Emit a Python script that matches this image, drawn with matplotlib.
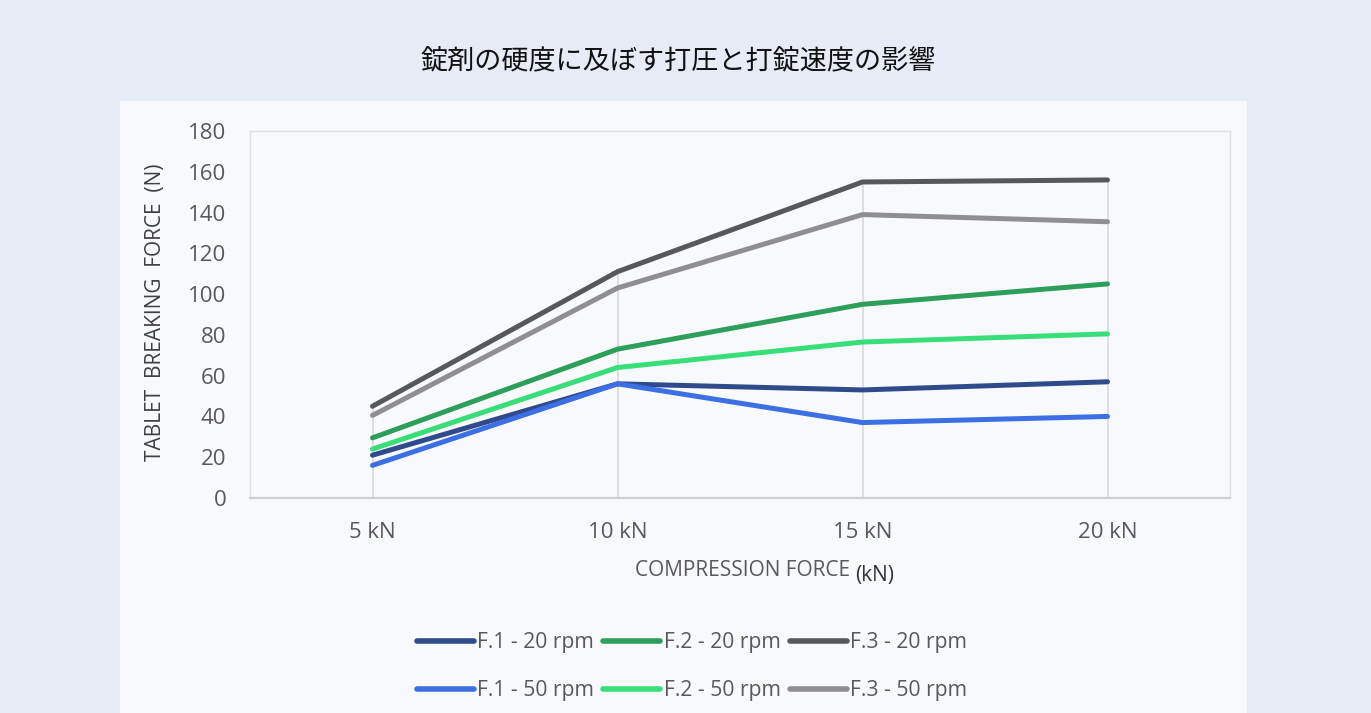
import matplotlib
matplotlib.use("Agg")
import matplotlib.pyplot as plt
from matplotlib.patches import Rectangle

# data
categories = ["5 kN", "10 kN", "15 kN", "20 kN"]
f1_20 = [21, 56, 53, 57]
f1_50 = [16, 56, 37, 40]
f2_20 = [29.5, 73, 95, 105]
f2_50 = [24, 64, 76.5, 80.5]
f3_20 = [45, 111, 155, 156]
f3_50 = [40.5, 103, 139, 135.5]
series_labels = ["F.1 - 20 rpm", "F.1 - 50 rpm", "F.2 - 20 rpm",
                 "F.2 - 50 rpm", "F.3 - 20 rpm", "F.3 - 50 rpm"]
yticks = [0, 20, 40, 60, 80, 100, 120, 140, 160, 180]

title = "錠剤の硬度に及ぼす打圧と打錠速度の影響"

COLORS = ["#2f4b8c", "#3b6fe3", "#2e9e5b", "#38df78", "#56585b", "#8f8f92"]
W, H = 1371, 713

plt.rcParams["font.family"] = ["Open Sans", "DejaVu Sans"]

fig = plt.figure(figsize=(W / 100, H / 100), dpi=100)
fig.patch.set_facecolor("#e6ebf6")

# inner light panel, kept behind the axes
fig.patches.append(Rectangle((120 / W, 0), (1247 - 120) / W, (713 - 101) / H,
                             transform=fig.transFigure, facecolor="#f7f9fd",
                             edgecolor="none", zorder=-5))

fig.text(678 / W, 1 - 62 / H, title, ha="center", va="center", fontsize=19.5,
         family=["Noto Sans CJK JP", "DejaVu Sans"], color="#111111")

ax = fig.add_axes([250 / W, 1 - 498 / H, (1230 - 250) / W, (498 - 131) / H])
ax.set_zorder(2)
ax.set_facecolor("#f7f9fd")

x = list(range(len(categories)))
all_series = [f1_20, f1_50, f2_20, f2_50, f3_20, f3_50]

# drop lines from the highest value down to zero
tops = [max(vals) for vals in zip(*all_series)]
ax.vlines(x, 0, tops, colors="#d9d9d9", linewidth=1.2, zorder=1)

for vals, lab, col in zip(all_series, series_labels, COLORS):
    ax.plot(x, vals, color=col, linewidth=3.6, label=lab,
            solid_capstyle="round", solid_joinstyle="round", zorder=3)

ax.set_xlim(-0.5, len(categories) - 0.5)
ax.set_ylim(0, 180)
ax.set_yticks(yticks)
ax.set_xticks(x)
ax.set_xticklabels(categories)
ax.tick_params(axis="both", length=0, labelsize=16, labelcolor="#595959")
ax.tick_params(axis="y", pad=17)
ax.tick_params(axis="x", pad=17)

for side in ["left", "top", "right"]:
    ax.spines[side].set_color("#e0e0e0")
    ax.spines[side].set_linewidth(1.0)
ax.spines["bottom"].set_color("#d0d0d0")
ax.spines["bottom"].set_linewidth(1.6)

fig.text(156 / W, 1 - 312 / H, "TABLET  BREAKING  FORCE  (N)", rotation=90,
         ha="center", va="center", fontsize=15, color="#404040")
fig.text(850 / W, 1 - 570 / H, "COMPRESSION FORCE", ha="right", va="center",
         fontsize=15, color="#595959")
fig.text(855 / W, 1 - 576 / H, "(kN)", ha="left", va="center",
         fontsize=15, color="#333333")

leg = fig.legend(loc="upper center", bbox_to_anchor=(692 / W, 1 - 632 / H),
                 ncol=3, frameon=False, fontsize=15.2, handlelength=2.7,
                 handletextpad=0.15, columnspacing=0.45, labelspacing=1.3,
                 borderpad=0, borderaxespad=0)
for t in leg.get_texts():
    t.set_color("#595959")
for h in leg.get_lines():
    h.set_linewidth(4)

fig.savefig("out.png", dpi=100, facecolor=fig.get_facecolor())
